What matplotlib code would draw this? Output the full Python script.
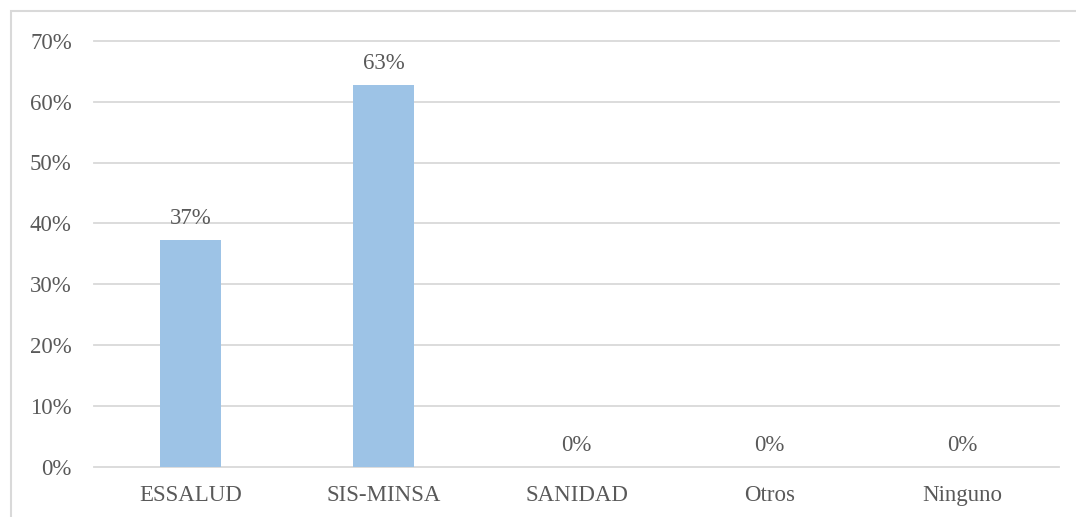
import matplotlib.pyplot as plt
from matplotlib.patches import Rectangle
from matplotlib.ticker import PercentFormatter

categories = ["ESSALUD", "SIS-MINSA", "SANIDAD", "Otros", "Ninguno"]
values = [0.373, 0.627, 0.0, 0.0, 0.0]
labels = ["37%", "63%", "0%", "0%", "0%"]
yticks = [0, 0.1, 0.2, 0.3, 0.4, 0.5, 0.6, 0.7]

text_color = "#595959"
grid_color = "#d9d9d9"
bar_color = "#9dc3e6"

plt.rcParams["font.family"] = ["Liberation Serif", "DejaVu Serif"]

fig = plt.figure(figsize=(10.76, 5.17), dpi=100)
ax = fig.add_axes([94 / 1076, 1 - 467 / 517, (1059 - 94) / 1076, (467 - 40.7) / 517])

# outer chart border (cut off on right and bottom like the source)
fig.patches.append(Rectangle((11 / 1076, -0.1), 1.2, 1 - 11 / 517 + 0.1,
                             transform=fig.transFigure, fill=False,
                             edgecolor=grid_color, linewidth=1.5))

x = range(len(categories))
bars = ax.bar(x, values, width=0.316, color=bar_color, zorder=2)

for xi, v, lab in zip(x, values, labels):
    ax.annotate(lab, (xi, v), xytext=(0, 8), textcoords="offset points",
                ha="center", va="bottom", fontsize=16.5, color=text_color)

ax.set_xlim(-0.5, len(categories) - 0.5)
ax.set_ylim(0, 0.7)
ax.set_yticks(yticks)
ax.yaxis.set_major_formatter(PercentFormatter(1.0, decimals=0))
ax.set_xticks(list(x))
ax.set_xticklabels(categories)
ax.tick_params(axis="both", length=0, labelsize=16.5, colors=text_color)
ax.tick_params(axis="x", pad=13)
ax.tick_params(axis="y", pad=16)
ax.grid(axis="y", color=grid_color, linewidth=1.3, zorder=0)
for gl in ax.get_ygridlines():
    gl.set_clip_on(False)
for s in ax.spines.values():
    s.set_visible(False)

fig.savefig("out.png", dpi=100)
